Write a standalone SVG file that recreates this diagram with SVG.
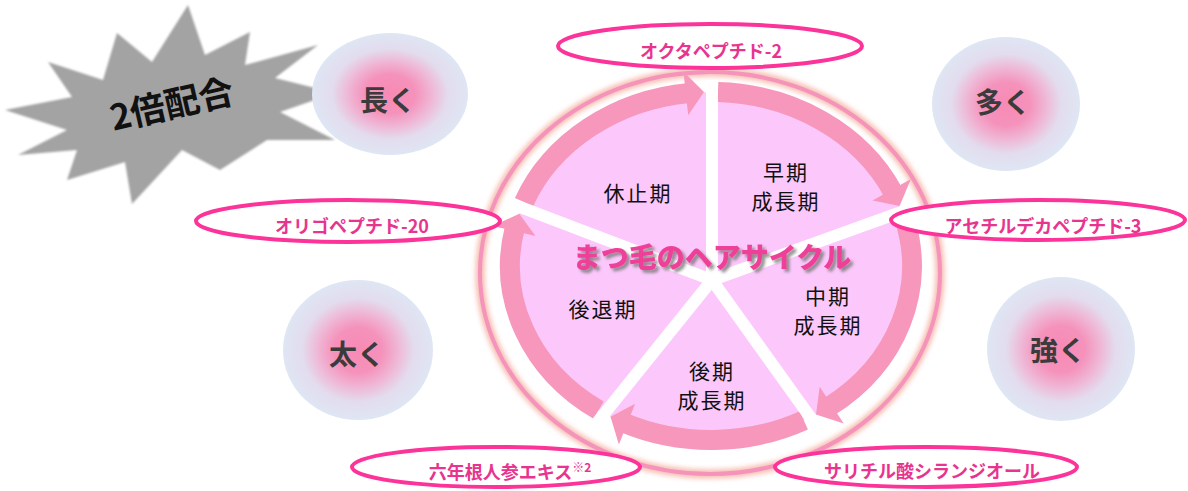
<svg xmlns="http://www.w3.org/2000/svg" width="1188" height="491" viewBox="0 0 1188 491">
<defs>
<style>
.jp{font-family:"Noto Sans CJK JP","Noto Sans",sans-serif;}
.ph{font-size:21px;fill:#111;letter-spacing:2px;text-anchor:middle;}
.bt{font-size:28px;font-weight:700;fill:#3b3b3b;text-anchor:middle;}
.lt{font-size:18px;font-weight:700;fill:#e8348f;text-anchor:middle;}
.lab{fill:#fff;stroke:#fc3399;stroke-width:4;}
.band{fill:none;stroke:#f797bb;stroke-width:20;}
.head{fill:#f797bb;}
.stripe{stroke:#fff;stroke-width:12;stroke-linecap:butt;}
.bub{fill:url(#bubg);}
</style>
<radialGradient id="bubg" cx="50%" cy="50%" r="50%">
<stop offset="0" stop-color="#f78ab5"/>
<stop offset="0.32" stop-color="#f592bb"/>
<stop offset="0.56" stop-color="#eebbd8"/>
<stop offset="0.74" stop-color="#e3dcee"/>
<stop offset="1" stop-color="#dfe6f3"/>
</radialGradient>
<filter id="soft" x="-10%" y="-10%" width="120%" height="120%">
<feGaussianBlur stdDeviation="1.2"/>
</filter>
<filter id="glow" x="-10%" y="-10%" width="120%" height="120%">
<feGaussianBlur stdDeviation="2.5"/>
</filter>
<filter id="tshadow" x="-10%" y="-40%" width="120%" height="180%">
<feGaussianBlur in="SourceAlpha" stdDeviation="1.5"/>
<feOffset dx="3" dy="3" result="b"/>
<feFlood flood-color="#777" flood-opacity="0.8"/>
<feComposite in2="b" operator="in"/>
<feMerge><feMergeNode/><feMergeNode in="SourceGraphic"/></feMerge>
</filter>
</defs>
<rect width="1188" height="491" fill="#fff"/>

<g id="starburst">
<polygon points="188,5 205,55 250,32 245,65 318,45 275,78 335,93 280,112 335,140 267,140 220,170 182,150 132,204 125,162 67,180 77,150 18,155 67,130 5,110 72,97 48,62 103,80 117,33 152,62" fill="#a3a3a3" filter="url(#soft)"/>
<text class="jp" x="172" y="117" font-size="35" font-weight="700" fill="#111" text-anchor="middle" transform="rotate(-13 172 105)">2倍配合</text>
</g>

<g id="bubble-nagaku"><ellipse class="bub" cx="390" cy="94" rx="78" ry="61"/><text class="jp bt" x="388" y="111">長く</text></g>
<g id="bubble-ooku"><ellipse class="bub" cx="1006" cy="104" rx="74" ry="67"/><text class="jp bt" x="1003" y="113">多く</text></g>
<g id="bubble-tsuyoku"><ellipse class="bub" cx="1061" cy="349" rx="74" ry="72"/><text class="jp bt" x="1058" y="361">強く</text></g>
<g id="bubble-futoku"><ellipse class="bub" cx="358" cy="350" rx="75" ry="70"/><text class="jp bt" x="357" y="365">太く</text></g>

<g id="cycle">
<ellipse cx="710" cy="273" rx="230" ry="201" fill="none" stroke="#f5b0a2" stroke-width="9" opacity="0.85" filter="url(#glow)"/>
<ellipse cx="710" cy="273" rx="230" ry="201" fill="none" stroke="#f593bb" stroke-width="4"/>
<ellipse cx="711" cy="266" rx="201" ry="174" fill="#fcc8fc"/>
</g>

<g id="connectors">
<path class="band" d="M524.0 202.2 A201 174 0 0 1 689.3 93.0"/>
<polygon class="head" points="704.0,92.1 683.4,71.5 688.2,115.3"/>
<path class="band" d="M718.0 92.1 A201 174 0 0 1 893.2 192.5"/>
<polygon class="head" points="899.6,205.9 910.9,178.9 872.5,200.5"/>
<path class="band" d="M904.0 217.5 A201 174 0 0 1 828.9 406.9"/>
<polygon class="head" points="816.0,414.4 843.7,423.5 819.7,386.7"/>
<path class="band" d="M803.8 420.3 A201 174 0 0 1 623.8 422.8"/>
<polygon class="head" points="610.5,416.7 618.9,444.5 635.1,403.7"/>
<path class="band" d="M598.6 410.2 A201 174 0 0 1 514.8 228.0"/>
<polygon class="head" points="519.3,213.7 492.7,225.9 535.5,236.1"/>
</g>

<g id="dividers">
<line class="stripe" x1="712" y1="280" x2="712" y2="80"/>
<line class="stripe" x1="712" y1="280" x2="508.5" y2="202.6"/>
<line class="stripe" x1="712" y1="280" x2="914.7" y2="207.2"/>
<line class="stripe" x1="712" y1="280" x2="817.1" y2="426.8"/>
<line class="stripe" x1="712" y1="280" x2="597" y2="422.8"/>
</g>

<g id="phase-kyushi"><text class="jp ph" x="638" y="201">休止期</text></g>
<g id="phase-soki"><text class="jp ph" x="786" y="180">早期</text><text class="jp ph" x="786" y="209">成長期</text></g>
<g id="phase-chuki"><text class="jp ph" x="828" y="304">中期</text><text class="jp ph" x="828" y="333">成長期</text></g>
<g id="phase-koki"><text class="jp ph" x="712" y="379">後期</text><text class="jp ph" x="712" y="408">成長期</text></g>
<g id="phase-kotai"><text class="jp ph" x="603" y="317">後退期</text></g>

<g id="title"><text class="jp" x="712" y="268" font-size="28" font-weight="900" fill="#ef4199" text-anchor="middle" filter="url(#tshadow)">まつ毛のヘアサイクル</text></g>

<g id="label-octa"><ellipse class="lab" cx="710" cy="46" rx="152" ry="22"/><text class="jp lt" x="711" y="58">オクタペプチド-2</text></g>
<g id="label-oligo"><ellipse class="lab" cx="348" cy="221" rx="152" ry="21"/><text class="jp lt" x="352" y="233">オリゴペプチド-20</text></g>
<g id="label-acetyl"><ellipse class="lab" cx="1038" cy="220" rx="147" ry="20"/><text class="jp lt" x="1043" y="233">アセチルデカペプチド-3</text></g>
<g id="label-ginseng"><ellipse class="lab" cx="496" cy="467" rx="144" ry="20"/><text class="jp lt" x="510" y="479">六年根人参エキス<tspan font-size="12" dy="-7">※2</tspan></text></g>
<g id="label-salicyl"><ellipse class="lab" cx="926" cy="467" rx="151" ry="20"/><text class="jp lt" x="932" y="478">サリチル酸シランジオール</text></g>
</svg>
